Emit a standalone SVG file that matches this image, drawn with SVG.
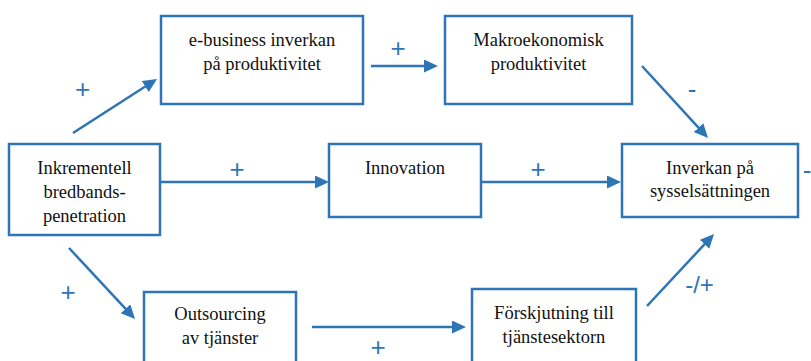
<svg xmlns="http://www.w3.org/2000/svg" width="811" height="361" viewBox="0 0 811 361">
<style>
.box{fill:#fff;stroke:#2E75B6;stroke-width:2.5}
.t{font-family:"Liberation Serif","Times New Roman",serif;font-size:18.5px;fill:#111;text-anchor:middle}
.lbl{font-family:"Liberation Sans",Arial,sans-serif;font-size:26px;fill:#2E75B6;text-anchor:middle}
.c{stroke:#2E75B6;stroke-width:2.5;fill:none;marker-end:url(#ah)}
</style>
<defs>
<marker id="ah" markerUnits="userSpaceOnUse" markerWidth="16" markerHeight="14" refX="6" refY="6.5" orient="auto">
<path d="M0,0 L14,6.5 L0,13 z" fill="#2E75B6"/>
</marker>
</defs>
<rect width="811" height="361" fill="#fff"/>
<g id="connectors">
<line class="c" x1="73" y1="133" x2="150.3" y2="83.3"/>
<line class="c" x1="371" y1="66" x2="430" y2="66"/>
<line class="c" x1="642" y1="66" x2="702.6" y2="132.1"/>
<line class="c" x1="160" y1="182" x2="321" y2="182"/>
<line class="c" x1="481" y1="182" x2="613" y2="182"/>
<line class="c" x1="69" y1="248" x2="129.6" y2="313.1"/>
<line class="c" x1="312" y1="327" x2="458" y2="327"/>
<line class="c" x1="647" y1="306" x2="708.6" y2="239.9"/>
</g>
<g id="labels">
<text class="lbl" x="82.5" y="98">+</text>
<text class="lbl" x="398" y="57">+</text>
<text class="lbl" x="692" y="98">-</text>
<text class="lbl" x="237" y="178">+</text>
<text class="lbl" x="538" y="178">+</text>
<text class="lbl" x="807" y="179">-</text>
<text class="lbl" x="68" y="301">+</text>
<text class="lbl" x="378" y="356">+</text>
<text class="lbl" x="699.5" y="293" style="font-size:24px">-/+</text>
</g>
<g id="n-ebusiness">
<rect class="box" x="161" y="16" width="202" height="88"/>
<text class="t" x="262" y="46">e-business inverkan</text>
<text class="t" x="262" y="70">på produktivitet</text>
</g>
<g id="n-makro">
<rect class="box" x="445" y="16" width="187" height="88"/>
<text class="t" x="538.5" y="46">Makroekonomisk</text>
<text class="t" x="538.5" y="70">produktivitet</text>
</g>
<g id="n-inkrementell">
<rect class="box" x="9" y="144" width="151" height="91"/>
<text class="t" x="84.5" y="174">Inkrementell</text>
<text class="t" x="84.5" y="198">bredbands-</text>
<text class="t" x="84.5" y="222">penetration</text>
</g>
<g id="n-innovation">
<rect class="box" x="329" y="144" width="152" height="73"/>
<text class="t" x="405" y="174">Innovation</text>
</g>
<g id="n-inverkan">
<rect class="box" x="622" y="144" width="176" height="73"/>
<text class="t" x="710" y="174">Inverkan på</text>
<text class="t" x="710" y="197">sysselsättningen</text>
</g>
<g id="n-outsourcing">
<rect class="box" x="144" y="292" width="152" height="80"/>
<text class="t" x="220" y="320">Outsourcing</text>
<text class="t" x="220" y="344">av tjänster</text>
</g>
<g id="n-forskjutning">
<rect class="box" x="472" y="289" width="164" height="83"/>
<text class="t" x="554" y="319">Förskjutning till</text>
<text class="t" x="554" y="343">tjänstesektorn</text>
</g>
</svg>
